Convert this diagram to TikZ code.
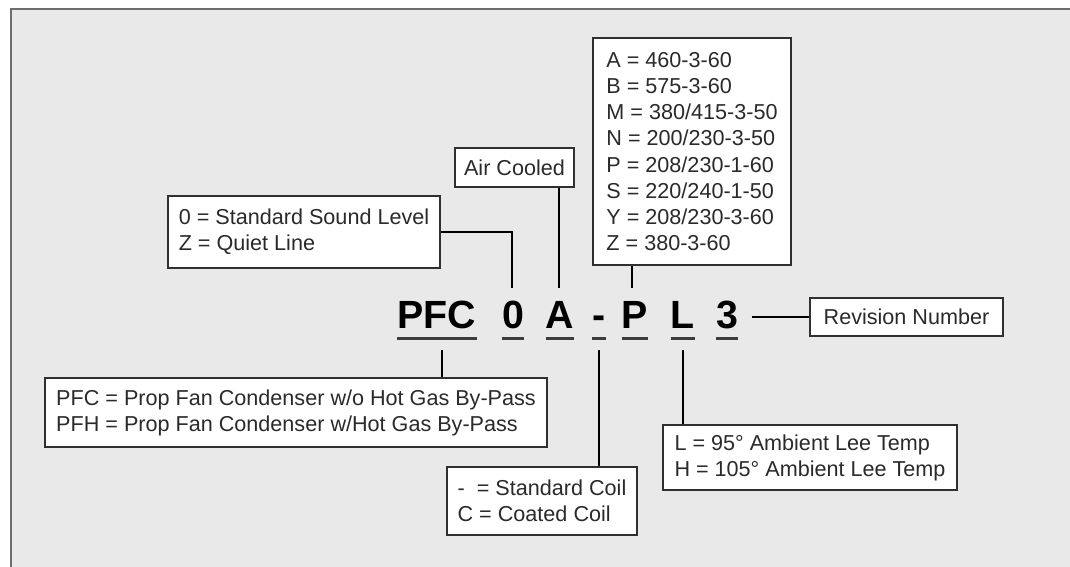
\documentclass[tikz,border=0pt]{standalone}
\usepackage{fontspec}
\setmainfont{Liberation Sans}
\definecolor{bg}{HTML}{E9E9E9}
\definecolor{frame}{HTML}{6E6E6E}
\definecolor{ink}{HTML}{2A2A2A}
\definecolor{boxline}{HTML}{303030}
\definecolor{ul}{HTML}{3C3C3C}
\begin{document}
\begin{tikzpicture}[x=0.75pt,y=-0.75pt,
  infobox/.style={draw=boxline, line width=1.4pt, fill=white, text=ink, align=left,
    inner sep=0pt, font=\fontsize{16.2}{19.6}\selectfont},
  code/.style={anchor=base, inner sep=0pt, text height=21pt, text depth=0pt,
    font=\fontsize{29.5}{30}\selectfont\bfseries, text=black},
  uline/.style={draw=ul, line width=2pt},
  conn/.style={draw=black, line width=1.5pt}]
\useasboundingbox (0,0) rectangle (1070,567);
\fill[white] (0,0) rectangle (1070,567);
\fill[bg] (11,9) rectangle (1070,567);
\draw[frame, line width=1.6pt] (11,567) -- (11,9) -- (1070,9);

% code letters
\node[code] (cPFC) at (437,328) {PFC};
\node[code] (c0) at (513,328) {0};
\node[code] (cA) at (560,328) {A};
\node[code] (cD) at (599,328) {-};
\node[code] (cP) at (635,328) {P};
\node[code] (cL) at (683,328) {L};
\node[code] (c3) at (727,328) {3};
\foreach \n in {cPFC,c0,cA,cD,cP,cL,c3}
  \draw[uline] ([yshift=-7.5pt]\n.south west) -- ([yshift=-7.5pt]\n.south east);

% boxes
\node[infobox, minimum width=204pt, minimum height=54pt] (snd) at (304,232)
  {0 = Standard Sound Level\\Z = Quiet Line};
\node[infobox, minimum width=89pt, minimum height=29pt] (air) at (514.5,167.5)
  {Air Cooled};
\node[infobox, minimum width=148.5pt, minimum height=170pt] (volt) at (692,151.5)
  {A = 460-3-60\\B = 575-3-60\\M = 380/415-3-50\\N = 200/230-3-50\\P = 208/230-1-60\\S = 220/240-1-50\\Y = 208/230-3-60\\Z = 380-3-60};
\node[infobox, minimum width=145pt, minimum height=28.5pt] (rev) at (906.5,317)
  {Revision Number};
\node[infobox, minimum width=376pt, minimum height=52pt] (pfc) at (296,412.5)
  {PFC = Prop Fan Condenser w/o Hot Gas By-Pass\\PFH = Prop Fan Condenser w/Hot Gas By-Pass};
\node[infobox, minimum width=142.5pt, minimum height=51pt] (coil) at (542,501)
  {-\ \ = Standard Coil\\C = Coated Coil};
\node[infobox, minimum width=220.5pt, minimum height=49pt] (amb) at (810,457.5)
  {L = 95\textdegree\ Ambient Lee Temp\\H = 105\textdegree\ Ambient Lee Temp};

% connector end points
\coordinate (t0) at ([yshift=9pt,xshift=-0.75pt]c0.north);
\coordinate (tA) at ([yshift=9pt,xshift=-0.75pt]cA.north);
\coordinate (tP) at ([yshift=9pt,xshift=-2.5pt]cP.north);
\coordinate (bPFC) at ([yshift=-16.5pt,xshift=3.75pt]cPFC.south);
\coordinate (bD) at ([yshift=-16.5pt]cD.south);
\coordinate (bL) at ([yshift=-16.5pt]cL.south);
\coordinate (r3) at ([xshift=10pt]c3.east |- rev.west);

% connectors
\draw[conn] (snd.east) -| (t0);
\draw[conn] (tA |- air.south) -- (tA);
\draw[conn] (tP |- volt.south) -- (tP);
\draw[conn] (r3) -- (rev.west);
\draw[conn] (bPFC) -- (bPFC |- pfc.north);
\draw[conn] (bD) -- (bD |- coil.north);
\draw[conn] (bL) -- (bL |- amb.north);
\end{tikzpicture}
\end{document}
